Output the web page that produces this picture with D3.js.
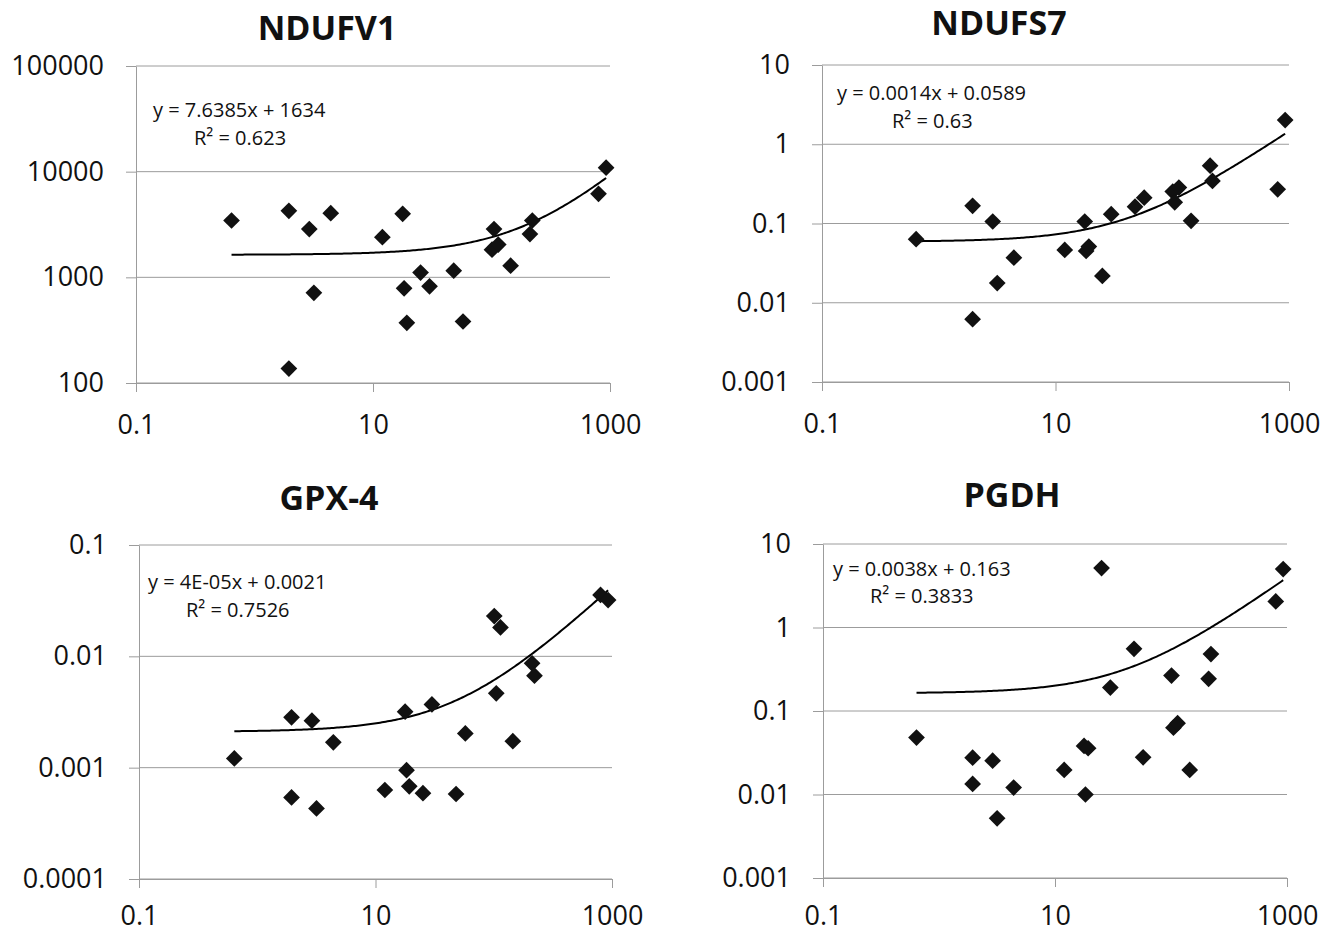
<!DOCTYPE html>
<html>
<head>
<meta charset="utf-8">
<script src="https://cdn.jsdelivr.net/npm/d3@7"></script>
<style>
  body { margin: 0; background: #fff; }
  svg { display: block; }
  text { font-family: "Open Sans", "DejaVu Sans", sans-serif; fill: #111; }
</style>
</head>
<body>
<svg id="chart" width="1334" height="936"></svg>
<script>
// ---- data ----
const xValues = [0.64, 1.95, 1.95, 2.9, 3.17, 4.4, 12, 17.8, 18.3, 19.3, 25.2, 30, 48, 57.5, 101, 105, 114, 145, 211, 221, 800, 927];
const xTicks = [0.1, 10, 1000];
const xTickLabels = ["0.1", "10", "1000"];

const ndufv1 = [3450, 4260, 137, 2860, 713, 4050, 2400, 3990, 787, 371, 1110, 822, 1156, 382, 1825, 2860, 2040, 1290, 2570, 3450, 6170, 10900];
const ndufs7 = [0.0634, 0.167, 0.0062, 0.106, 0.0177, 0.037, 0.0464, 0.106, 0.045, 0.0512, 0.0218, 0.131, 0.163, 0.212, 0.253, 0.185, 0.284, 0.108, 0.537, 0.344, 0.270, 2.02];
const gpx4 = [0.00121, 0.00283, 0.00054, 0.00264, 0.00043, 0.00169, 0.00063, 0.00318, 0.00095, 0.00068, 0.00059, 0.0037, 0.00058, 0.00203, 0.023, 0.00465, 0.0182, 0.00173, 0.00865, 0.0067, 0.0356, 0.032];
const pgdh = [0.048, 0.0276, 0.0134, 0.0254, 0.00519, 0.0121, 0.0197, 0.0382, 0.01, 0.0358, 5.15, 0.191, 0.556, 0.0279, 0.266, 0.0632, 0.0714, 0.0197, 0.243, 0.48, 2.05, 5.01];

const titles = ["NDUFV1", "NDUFS7", "GPX-4", "PGDH"];
const yTicksList = [
  [100, 1000, 10000, 100000],
  [0.001, 0.01, 0.1, 1, 10],
  [0.0001, 0.001, 0.01, 0.1],
  [0.001, 0.01, 0.1, 1, 10]
];
const yTickLabelsList = [
  ["100", "1000", "10000", "100000"],
  ["0.001", "0.01", "0.1", "1", "10"],
  ["0.0001", "0.001", "0.01", "0.1"],
  ["0.001", "0.01", "0.1", "1", "10"]
];
const equations = ["y = 7.6385x + 1634", "y = 0.0014x + 0.0589", "y = 4E-05x + 0.0021", "y = 0.0038x + 0.163"];
const rSquared = ["R² = 0.623", "R² = 0.63", "R² = 0.7526", "R² = 0.3833"];
const slopes = [7.6385, 0.0014, 0.00004, 0.0038];
const intercepts = [1634, 0.0589, 0.0021, 0.163];
const seriesList = [ndufv1, ndufs7, gpx4, pgdh];

// ---- layout ----
const layouts = [
  { x0: 136, x1: 610, y0: 66, y1: 383, xPad: 23, titleX: 327, titleY: 40, eqX: 153, eqY: 117, rX: 194, rY: 145 },
  { x0: 822, x1: 1289, y0: 65, y1: 382, xPad: 23, titleX: 999, titleY: 35, eqX: 837, eqY: 100, rX: 892, rY: 128 },
  { x0: 139, x1: 612, y0: 545, y1: 879, xPad: 18, titleX: 329, titleY: 510, eqX: 148, eqY: 589, rX: 186, rY: 617 },
  { x0: 823, x1: 1287, y0: 544, y1: 878, xPad: 19, titleX: 1012, titleY: 507, eqX: 833, eqY: 576, rX: 870, rY: 603 }
];

const svg = d3.select("#chart");
const gridColor = "#9c9c9c";

seriesList.forEach((ys, i) => {
  const L = layouts[i];
  const yt = yTicksList[i];
  const x = d3.scaleLog().domain([0.1, 1000]).range([L.x0, L.x1]);
  const y = d3.scaleLog().domain([yt[0], yt[yt.length - 1]]).range([L.y1, L.y0]);
  const g = svg.append("g");

  // gridlines
  g.selectAll("line.grid").data(yt).join("line")
    .attr("class", "grid")
    .attr("x1", L.x0).attr("x2", L.x1)
    .attr("y1", d => y(d)).attr("y2", d => y(d))
    .attr("stroke", gridColor).attr("stroke-width", 1);

  // left axis
  const yAxis = d3.axisLeft(y).tickValues(yt)
    .tickFormat((d, k) => yTickLabelsList[i][k])
    .tickSizeInner(10).tickSizeOuter(0).tickPadding(22);
  const ga = g.append("g").attr("transform", `translate(${L.x0},0)`).call(yAxis);
  ga.select(".domain").attr("stroke", gridColor);
  ga.selectAll(".tick line").attr("stroke", gridColor);
  ga.selectAll(".tick text").attr("font-size", 27).attr("fill", "#111")
    .attr("font-family", '"Open Sans", sans-serif');

  // bottom axis
  const xAxis = d3.axisBottom(x).tickValues(xTicks)
    .tickFormat((d, k) => xTickLabels[k])
    .tickSizeInner(9).tickSizeOuter(0).tickPadding(L.xPad);
  const gb = g.append("g").attr("transform", `translate(0,${L.y1})`).call(xAxis);
  gb.select(".domain").attr("stroke", gridColor);
  gb.selectAll(".tick line").attr("stroke", gridColor);
  gb.selectAll(".tick text").attr("font-size", 27).attr("fill", "#111")
    .attr("font-family", '"Open Sans", sans-serif');

  // trendline
  const xs = xValues;
  const lo = Math.log10(d3.min(xs)), hi = Math.log10(d3.max(xs));
  const samples = d3.range(0, 201).map(k => Math.pow(10, lo + (hi - lo) * k / 200));
  const line = d3.line().x(d => x(d)).y(d => y(slopes[i] * d + intercepts[i]));
  g.append("path").datum(samples).attr("d", line)
    .attr("fill", "none").attr("stroke", "#000").attr("stroke-width", 2);

  // markers
  const sym = d3.symbol().type(d3.symbolSquare).size(140);
  g.selectAll("path.pt").data(xs.map((xv, k) => [xv, ys[k]])).join("path")
    .attr("class", "pt")
    .attr("d", sym)
    .attr("transform", d => `translate(${x(d[0])},${y(d[1])}) rotate(45)`)
    .attr("fill", "#111");

  // title
  g.append("text").attr("x", L.titleX).attr("y", L.titleY)
    .attr("text-anchor", "middle").attr("font-size", 34).attr("font-weight", 700)
    .text(titles[i]);

  // equation
  g.append("text").attr("x", L.eqX).attr("y", L.eqY).attr("font-size", 20).text(equations[i]);
  g.append("text").attr("x", L.rX).attr("y", L.rY).attr("font-size", 20).text(rSquared[i]);
});
</script>
</body>
</html>
